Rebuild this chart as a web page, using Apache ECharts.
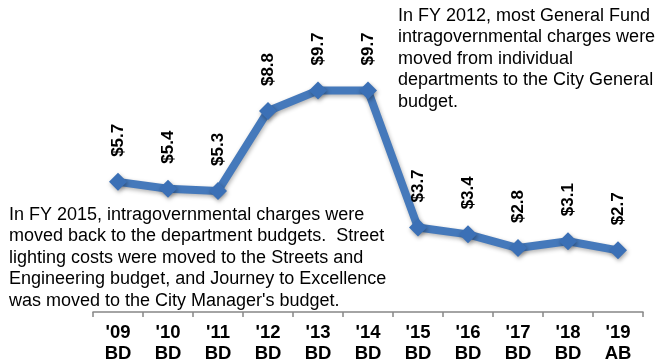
<!DOCTYPE html>
<html>
<head>
<meta charset="utf-8">
<script src="https://cdn.jsdelivr.net/npm/echarts@6/dist/echarts.min.js"></script>
<style>
  html, body { margin: 0; padding: 0; background: #fff; }
  #chart { width: 657px; height: 364px; }
</style>
</head>
<body>
<div id="chart"></div>
<script>
// Fiscal-year categories (two-line labels) and charges in $ millions
const years = ["'09\nBD", "'10\nBD", "'11\nBD", "'12\nBD", "'13\nBD", "'14\nBD",
               "'15\nBD", "'16\nBD", "'17\nBD", "'18\nBD", "'19\nAB"];
const charges = [5.7, 5.4, 5.3, 8.8, 9.7, 9.7, 3.7, 3.4, 2.8, 3.1, 2.7];

const note2012 = [
  'In FY 2012, most General Fund',
  'intragovernmental charges were',
  'moved from individual',
  'departments to the City General',
  'budget.'
];
const note2015 = [
  'In FY 2015, intragovernmental charges were',
  'moved back to the department budgets.  Street',
  'lighting costs were moved to the Streets and',
  'Engineering budget, and Journey to Excellence',
  "was moved to the City Manager's budget."
];

const FONT = '"Liberation Sans", Arial, Helvetica, sans-serif';
const chart = echarts.init(document.getElementById('chart'), null, { renderer: 'canvas' });

chart.setOption({
  animation: false,
  backgroundColor: '#ffffff',
  grid: { left: 93, right: 14, top: 38, bottom: 52 },
  xAxis: {
    type: 'category',
    data: years,
    boundaryGap: true,
    axisLine: { lineStyle: { color: '#868686', width: 1.5 } },
    axisTick: { show: true, length: 5, inside: false, lineStyle: { color: '#868686', width: 1.5 } },
    axisLabel: {
      color: '#000',
      fontFamily: FONT,
      fontWeight: 'bold',
      fontSize: 18.5,
      lineHeight: 21,
      margin: 10,
      interval: 0
    }
  },
  yAxis: {
    type: 'value',
    min: 0,
    max: 12,
    show: false,
    splitLine: { show: false }
  },
  series: [{
    type: 'line',
    data: charges,
    symbol: 'diamond',
    symbolSize: 18,
    lineStyle: {
      color: '#4579bb',
      width: 8,
      shadowColor: 'rgba(0,0,0,0.3)',
      shadowBlur: 4,
      shadowOffsetX: 1,
      shadowOffsetY: 2
    },
    itemStyle: {
      color: '#3b70b6',
      shadowColor: 'rgba(0,0,0,0.35)',
      shadowBlur: 4,
      shadowOffsetX: 1,
      shadowOffsetY: 2
    },
    label: {
      show: true,
      position: 'top',
      distance: 16,
      rotate: 90,
      align: 'left',
      verticalAlign: 'middle',
      color: '#000',
      fontFamily: FONT,
      fontWeight: 'bold',
      fontSize: 17,
      formatter: p => '$' + p.value.toFixed(1)
    }
  }],
  graphic: [
    {
      type: 'text',
      left: 398,
      top: 5,
      style: {
        text: note2012.join('\n'),
        font: '18px ' + FONT,
        lineHeight: 21.5,
        fill: '#000'
      }
    },
    {
      type: 'text',
      left: 9,
      top: 204,
      style: {
        text: note2015.join('\n'),
        font: '18px ' + FONT,
        lineHeight: 21.5,
        fill: '#000'
      }
    }
  ]
});
</script>
</body>
</html>
